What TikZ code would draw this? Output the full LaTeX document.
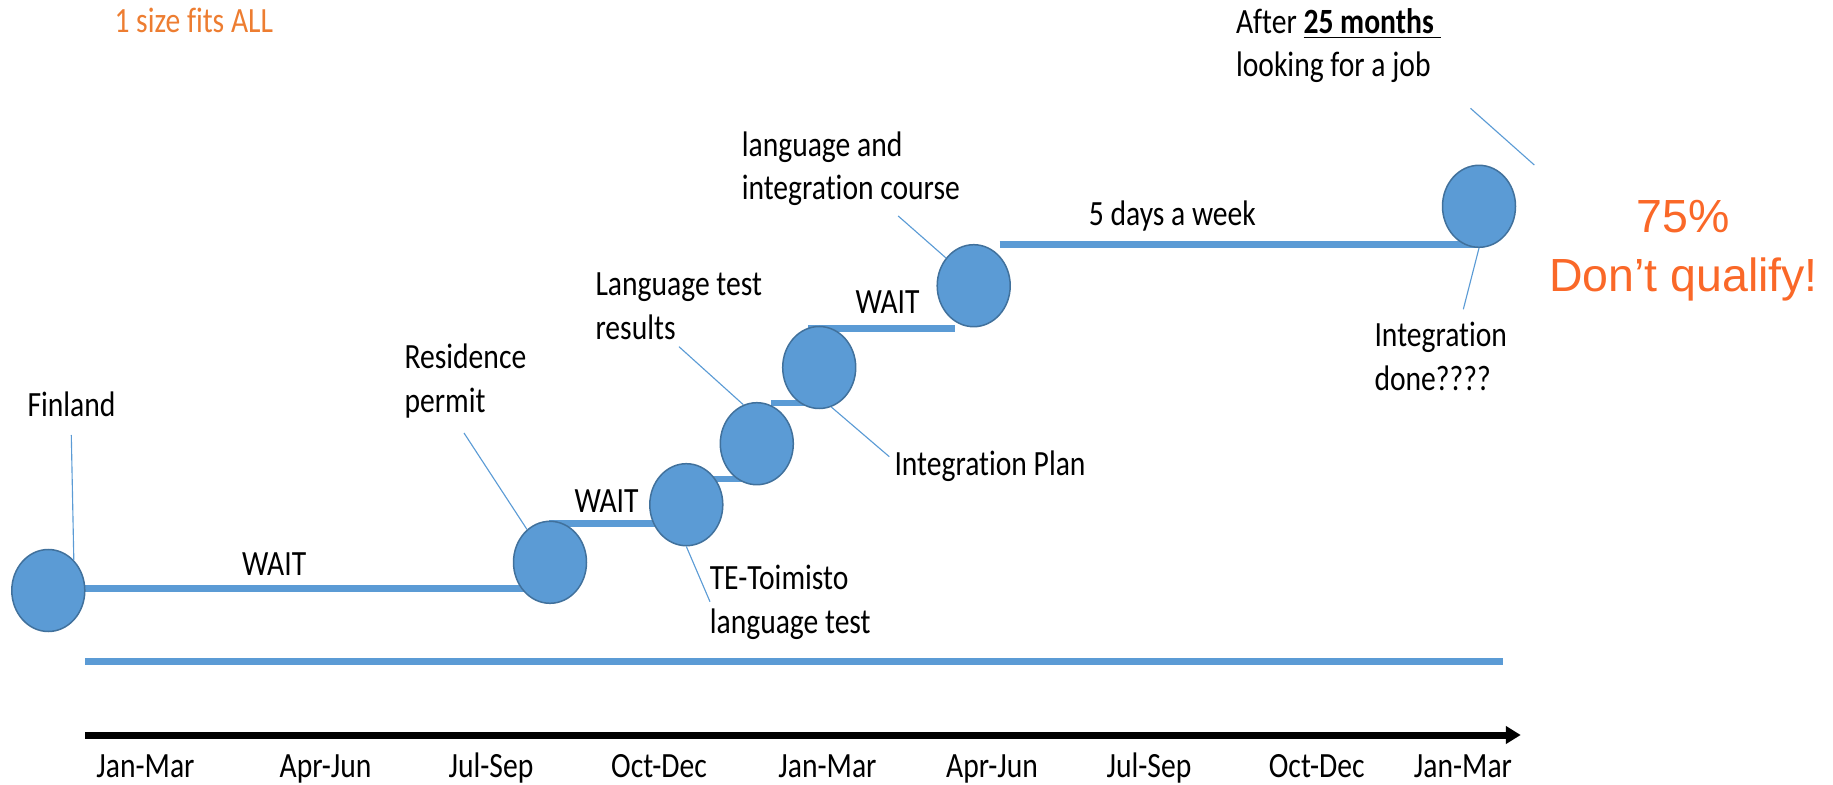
\documentclass[tikz,border=0pt]{standalone}
\usepackage{fontspec}
\setmainfont{Carlito}[FakeStretch=0.834,Ligatures=NoCommon]
\newfontfamily\arialf{Liberation Sans}
\usetikzlibrary{shapes.geometric,arrows.meta}
\definecolor{bfill}{HTML}{5B9BD5}
\definecolor{bdraw}{HTML}{41719C}
\definecolor{orng}{HTML}{ED7D31}
\definecolor{qcol}{RGB}{250,104,40}
\begin{document}
\begin{tikzpicture}[x=0.4pt,y=-0.4pt,
  font=\fontsize{14.2}{17.5}\selectfont,
  stage/.style={ellipse, fill=bfill, draw=bdraw, line width=0.6pt,
    minimum width=29.2pt, minimum height=32.8pt, inner sep=0pt},
  bar/.style={draw=bfill, line width=2.6pt},
  leader/.style={draw=bfill, line width=0.45pt},
  lbl/.style={anchor=base west, inner sep=0pt, align=left},
  month/.style={anchor=base, inner sep=0pt}]
\useasboundingbox (0,0) rectangle (1833,785);

% bar end points
\coordinate (b1s) at (48,588.3);   \coordinate (b1e) at (550,588.3);
\coordinate (b2s) at (549,523.7);  \coordinate (b2e) at (686,523.7);
\coordinate (b3s) at (686,479);    \coordinate (b3e) at (757,479);
\coordinate (b4s) at (771,403);    \coordinate (b4e) at (819,403);
\coordinate (b5s) at (808.3,328.7);\coordinate (b5e) at (955,328.7);
\coordinate (b6s) at (999.7,244.5);\coordinate (b6e) at (1479,244.5);
\coordinate (b7s) at (85,661.7);   \coordinate (b7e) at (1502.7,661.7);
\coordinate (axs) at (85,735);     \coordinate (axe) at (1520.7,735);

\draw[bar] (b1s) -- (b1e);
\draw[bar] (b2s) -- (b2e);
\draw[bar] (b3s) -- (b3e);
\draw[bar] (b4s) -- (b4e);
\draw[bar] (b5s) -- (b5e);
\draw[bar] (b6s) -- (b6e);
\draw[bar] (b7s) -- (b7e);
\draw[line width=2.8pt, -{Triangle[length=5.9pt,width=6.8pt]}] (axs) -- (axe);

% stages
\node[stage] (fin)    at (48.3,590.5) {};
\node[stage] (res)    at (550,562.3)  {};
\node[stage] (te)     at (686.3,504.7) {};
\node[stage] (rslt)   at (756.8,443.7) {};
\node[stage] (plan)   at (819.2,367.5) {};
\node[stage] (course) at (973.7,285.7) {};
\node[stage] (done)   at (1479,206.3)  {};

% leader free ends
\coordinate (lfin)    at (71.3,435);
\coordinate (lres)    at (464,433);
\coordinate (lte)     at (710,601.7);
\coordinate (lrslt)   at (679,346.7);
\coordinate (lplan)   at (889.3,456.7);
\coordinate (lcourse) at (898.2,216);
\coordinate (ldone)   at (1463.3,309.3);
\coordinate (ltopa)   at (1470.5,108.3);
\coordinate (ltopb)   at (1534.3,165);

\draw[leader] (lfin) -- (fin.50);
\draw[leader] (lres) -- (res.125);
\draw[leader] (lte) -- (te.south);
\draw[leader] (lrslt) -- (rslt.109);
\draw[leader] (lplan) -- (plan.287);
\draw[leader] (lcourse) -- (course.135);
\draw[leader] (ldone) -- (done.south);
\draw[leader] (ltopa) -- (ltopb);

% texts (base anchor = baseline of the last line)
\node[lbl, text=orng] (title) at (114,33) {1 size fits ALL};
\node[lbl] (after) at (1235.5,77) {After \underline{\textbf{25 months}\ }\\looking for a job};
\node[lbl] (tfin) at (27,416) {Finland};
\node[lbl] (w1) at (241.7,575) {WAIT};
\node[lbl] (tres) at (404,412.7) {Residence\\permit};
\node[lbl] (w2) at (574,512.5) {WAIT};
\node[lbl] (tte) at (709.3,633) {TE-Toimisto\\language test};
\node[lbl] (trslt) at (595,339.3) {Language test\\results};
\node[lbl] (tplan) at (894,475) {Integration Plan};
\node[lbl] (w3) at (855,313.3) {WAIT};
\node[lbl] (tcourse) at (741.3,200) {language and\\integration course};
\node[lbl] (tdays) at (1088.4,226) {5 days a week};
\node[lbl] (tdone) at (1374,390) {Integration\\done????};
\node[anchor=base, inner sep=0pt, align=center, text=qcol,
  font=\arialf\fontsize{18.6}{23.6}\selectfont] (q) at (1683.5,292) {75\%\\Don’t qualify!};

% months
\node[month] (m1) at (145.5,777.3) {Jan-Mar};
\node[month] (m2) at (325.5,777.3) {Apr-Jun};
\node[month] (m3) at (491,777.3) {Jul-Sep};
\node[month] (m4) at (659,777.3) {Oct-Dec};
\node[month] (m5) at (827.5,777.3) {Jan-Mar};
\node[month] (m6) at (992,777.3) {Apr-Jun};
\node[month] (m7) at (1149,777.3) {Jul-Sep};
\node[month] (m8) at (1316.7,777.3) {Oct-Dec};
\node[month] (m9) at (1463,777.3) {Jan-Mar};
\end{tikzpicture}
\end{document}
